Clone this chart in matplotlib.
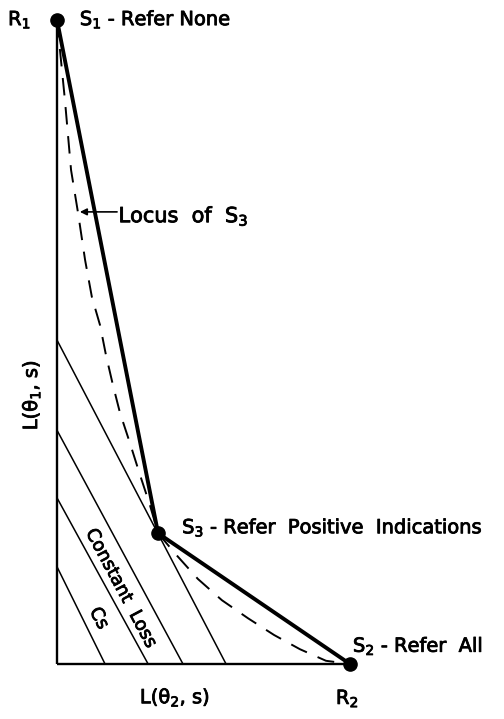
import matplotlib
matplotlib.use("Agg")
import matplotlib.pyplot as plt
import matplotlib.patheffects as pe

plt.rcParams['font.family'] = ['DejaVu Sans']
plt.rcParams['mathtext.default'] = 'regular'

# strategy points S1, S3, S2 (L(theta2,s), L(theta1,s))
strat_x = [0.0, 0.345, 1.0]
strat_y = [1.0, 0.203, 0.0]

# locus of S3 (dashed curve)
locus_x = [0.0, 0.027, 0.048, 0.072, 0.096, 0.119, 0.147, 0.167, 0.191, 0.215, 0.249,
           0.283, 0.317, 0.345, 0.410, 0.481, 0.563, 0.652, 0.741, 0.829, 0.918, 1.0]
locus_y = [1.0, 0.876, 0.767, 0.700, 0.627, 0.570, 0.526, 0.480, 0.433, 0.390, 0.343,
           0.294, 0.247, 0.203, 0.168, 0.132, 0.099, 0.071, 0.045, 0.023, 0.005, 0.0]

# constant loss lines: intercepts on the two axes
loss_y0 = [0.503, 0.363, 0.258, 0.151]
loss_x1 = [0.577, 0.430, 0.311, 0.164]

fig = plt.figure(figsize=(5.04, 7.19), dpi=100)
ax = fig.add_axes([0, 0, 1, 1])
ax.set_xlim(-0.1945, 1.5256)
ax.set_ylim(-0.0854, 1.031)
ax.axis('off')

# axes of the loss plane
ax.plot([0, 0], [0, 1], color='black', lw=1.7, solid_capstyle='butt')
ax.plot([0, 1], [0, 0], color='black', lw=1.7, solid_capstyle='butt')

for y0, x1 in zip(loss_y0, loss_x1):
    ax.plot([0, x1], [y0, 0], color='black', lw=1.1)

ax.plot(locus_x, locus_y, color='black', lw=1.4, dashes=(9, 6))
ax.plot(strat_x, strat_y, color='black', lw=2.8, solid_joinstyle='round')
ax.plot(strat_x, strat_y, 'o', color='black', ms=9.5)

# slightly heavier lettering, like the stencil text of the original
bold = [pe.withStroke(linewidth=0.6, foreground='black')]
fs = 14
kw = dict(fontsize=fs, va='baseline', path_effects=bold)
ax.text(-0.167, 0.992, "R$_1$", **kw)
ax.text(0.078, 0.992, "S$_1$ - Refer None", **kw)
ax.annotate("", xy=(0.078, 0.702), xytext=(0.205, 0.702),
            arrowprops=dict(arrowstyle='-|>', color='black', lw=1.2,
                            mutation_scale=10, shrinkA=0, shrinkB=0))
ax.text(0.210, 0.686, "Locus  of  S$_3$", fontsize=fs + 1, va='baseline', path_effects=bold)
ax.text(0.427, 0.203, "S$_3$ - Refer  Positive  Indications", **kw)
ax.text(1.01, 0.019, "S$_2$ - Refer  All", **kw)
ax.text(0.952, -0.062, "R$_2$", **kw)
ax.text(0.283, -0.061, "L(θ$_2$, s)", **kw)
ax.text(-0.068, 0.363, "L(θ$_1$, s)", fontsize=fs, rotation=90,
        rotation_mode='anchor', ha='left', va='baseline', path_effects=bold)
ax.text(0.218, 0.118, "Constant  Loss", fontsize=fs - 1, rotation=-62,
        rotation_mode='anchor', ha='center', va='center', path_effects=bold)
ax.text(0.143, 0.071, "Cs", fontsize=fs - 1, rotation=-62,
        rotation_mode='anchor', ha='center', va='center', path_effects=bold)

fig.savefig("out.png", dpi=100)
